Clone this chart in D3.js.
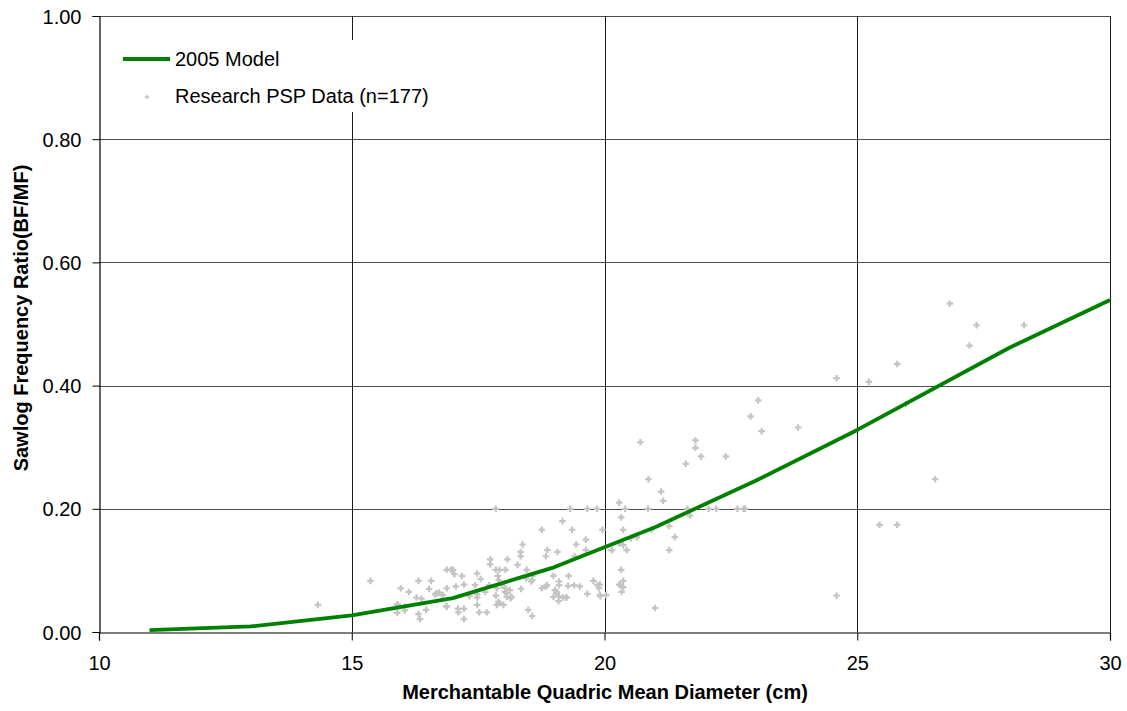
<!DOCTYPE html>
<html>
<head>
<meta charset="utf-8">
<script src="https://cdn.jsdelivr.net/npm/d3@7"></script>
<style>
  html, body { margin: 0; padding: 0; background: #fff; }
  svg { display: block; font-family: "Liberation Sans", Arial, sans-serif; }
</style>
</head>
<body>
<svg id="chart" width="1127" height="711"></svg>
<script>
// ---- Data ----
const xTicks = [10, 15, 20, 25, 30];
const yTicks = [0, 0.2, 0.4, 0.6, 0.8, 1.0];
const yTickLabels = ["0.00", "0.20", "0.40", "0.60", "0.80", "1.00"];

const modelX = [11, 13, 15, 17, 19, 21, 23, 25, 28, 30];
const modelY = [0.003, 0.009, 0.027, 0.055, 0.105, 0.170, 0.246, 0.328, 0.461, 0.539];

const pspX = [15.37,17.85,15.97,16.13,16.32,16.57,16.53,16.88,16.96,17.03,
  17.18,17.48,17.55,17.74,17.74,17.85,18.04,18.08,17.89,17.91,
  16.28,15.91,15.90,16.05,16.32,16.35,16.47,16.38,16.65,16.68,
  16.73,16.80,16.88,16.88,17.06,17.10,17.11,17.22,17.22,17.22,
  17.33,17.44,17.48,17.48,17.48,17.52,17.64,17.67,17.72,17.87,
  17.85,17.87,17.92,18.00,18.04,18.07,18.07,16.05,19.32,19.66,
  19.85,20.29,20.41,20.86,19.17,18.76,19.36,19.96,20.33,20.37,
  18.38,18.34,18.34,18.87,18.84,19.07,19.44,19.63,19.41,19.63,
  18.28,18.46,18.57,18.57,18.55,18.45,18.99,19.29,19.10,19.10,
  18.86,18.84,18.76,18.35,18.13,18.16,18.14,18.49,18.57,18.99,
  19.05,19.10,19.18,19.25,19.28,19.40,19.51,19.66,19.78,19.86,
  19.89,19.92,20.03,20.14,20.29,20.37,20.44,20.52,20.64,20.93,
  20.33,20.37,20.29,20.37,20.34,21.00,19.09,19.02,20.71,21.80,
  21.80,21.91,22.40,21.61,20.87,21.12,21.16,23.11,23.83,21.64,
  21.69,22.06,22.21,22.63,22.75,22.78,21.28,21.39,21.28,19.91,
  19.91,26.83,27.36,28.30,27.22,25.79,24.59,25.23,25.96,23.04,
  22.89,26.54,25.44,25.79,24.59,14.33,17.97,18.03,17.90,19.05,
  19.24,17.92,16.87,20.31,15.90,20.15,17.00];
const pspY = [0.083,0.200,0.071,0.065,0.083,0.083,0.070,0.101,0.101,0.094,
  0.091,0.095,0.086,0.118,0.110,0.101,0.101,0.118,0.091,0.084,
  0.056,0.044,0.031,0.041,0.029,0.021,0.036,0.054,0.061,0.063,
  0.064,0.060,0.071,0.041,0.074,0.038,0.032,0.077,0.038,0.021,
  0.058,0.076,0.061,0.056,0.044,0.032,0.065,0.032,0.076,0.071,
  0.059,0.044,0.047,0.044,0.071,0.063,0.057,0.035,0.200,0.200,
  0.200,0.210,0.200,0.200,0.180,0.166,0.166,0.166,0.186,0.166,
  0.142,0.130,0.123,0.133,0.123,0.130,0.142,0.150,0.123,0.133,
  0.109,0.101,0.091,0.084,0.082,0.087,0.091,0.091,0.082,0.076,
  0.076,0.074,0.071,0.070,0.068,0.057,0.055,0.036,0.026,0.057,
  0.063,0.058,0.056,0.056,0.075,0.076,0.074,0.062,0.083,0.076,
  0.071,0.058,0.060,0.133,0.144,0.141,0.133,0.152,0.154,0.166,
  0.101,0.083,0.077,0.073,0.065,0.039,0.050,0.068,0.308,0.311,
  0.299,0.285,0.285,0.273,0.248,0.228,0.213,0.326,0.332,0.200,
  0.189,0.200,0.200,0.200,0.200,0.200,0.172,0.154,0.133,0.077,
  0.060,0.533,0.498,0.498,0.465,0.435,0.412,0.406,0.370,0.376,
  0.350,0.248,0.174,0.174,0.059,0.044,0.076,0.065,0.049,0.065,
  0.056,0.101,0.042,0.076,0.045,0.133,0.101];

const seriesNames = ["2005 Model", "Research PSP Data (n=177)"];
const xTitle = "Merchantable Quadric Mean Diameter (cm)";
const yTitle = "Sawlog Frequency Ratio(BF/MF)";

// ---- Layout ----
const svg = d3.select("#chart");
const L = 99, R = 1110, T = 16, B = 632;
const x = d3.scaleLinear().domain([10, 30]).range([L, R]);
const y = d3.scaleLinear().domain([0, 1]).range([B, T]);

// gridlines
const grid = svg.append("g");
grid.selectAll("line.h").data(yTicks.slice(1)).join("line")
  .attr("x1", L).attr("x2", R)
  .attr("y1", d => Math.round(y(d)) + 0.5).attr("y2", d => Math.round(y(d)) + 0.5)
  .attr("stroke", "#4d4d4d").attr("stroke-width", 1);
grid.selectAll("line.v").data(xTicks.slice(1)).join("line")
  .attr("y1", T).attr("y2", B)
  .attr("x1", d => Math.round(x(d)) + 0.5).attr("x2", d => Math.round(x(d)) + 0.5)
  .attr("stroke", "#1a1a1a").attr("stroke-width", 1);

// legend background (occludes gridline)
svg.append("rect").attr("x", 112).attr("y", 40).attr("width", 330).attr("height", 72)
  .attr("fill", "#fff");

// axes
const yAxis = d3.axisLeft(y).tickValues(yTicks).tickSize(7).tickPadding(11)
  .tickFormat((d, i) => yTickLabels[i]);
const gy = svg.append("g").attr("transform", `translate(${L + 0.5},0)`).call(yAxis);
const xAxis = d3.axisBottom(x).tickValues(xTicks).tickSize(8).tickPadding(15)
  .tickFormat(d3.format("d"));
const gx = svg.append("g").attr("transform", `translate(0,${B + 0.5})`).call(xAxis);
[gx, gy].forEach(g => {
  g.select(".domain").attr("stroke", "#000").attr("stroke-width", 1.2);
  g.selectAll(".tick line").attr("stroke", "#000");
  g.selectAll(".tick text").attr("font-size", 20)
    .attr("font-family", "'Liberation Sans', Arial, sans-serif").attr("fill", "#000");
});
gy.selectAll(".tick text").attr("dy", "0.35em");

// axis titles
svg.append("text").attr("x", 605).attr("y", 699).attr("text-anchor", "middle")
  .attr("font-size", 20).attr("font-weight", "bold").text(xTitle);
svg.append("text").attr("transform", "translate(28,318) rotate(-90)")
  .attr("text-anchor", "middle").attr("font-size", 20).attr("font-weight", "bold").text(yTitle);

// scatter points
const pts = pspX.map((v, i) => ({ x: v, y: pspY[i] }));
const cross = d3.symbol().type(d3.symbolCross).size(24);
svg.append("g").selectAll("path").data(pts).join("path")
  .attr("transform", d => `translate(${x(d.x)},${y(d.y)})`)
  .attr("d", cross)
  .attr("fill", "#c4c4c4");

// model line
const line = d3.line().x(d => x(d[0])).y(d => y(d[1]));
svg.append("path").datum(modelX.map((v, i) => [v, modelY[i]]))
  .attr("d", line).attr("fill", "none").attr("stroke", "#008000")
  .attr("stroke-width", 3.8).attr("stroke-linejoin", "round");

// legend
const lg = svg.append("g");
lg.append("line").attr("x1", 123).attr("x2", 170).attr("y1", 59).attr("y2", 59)
  .attr("stroke", "#008000").attr("stroke-width", 3.8);
lg.append("path").attr("transform", "translate(147,97)")
  .attr("d", d3.symbol().type(d3.symbolCross).size(12)).attr("fill", "#c4c4c4");
lg.selectAll("text").data(seriesNames).join("text")
  .attr("x", 175).attr("y", (d, i) => 59 + i * 37).attr("dy", "0.35em")
  .attr("font-size", 20).text(d => d);
</script>
</body>
</html>
